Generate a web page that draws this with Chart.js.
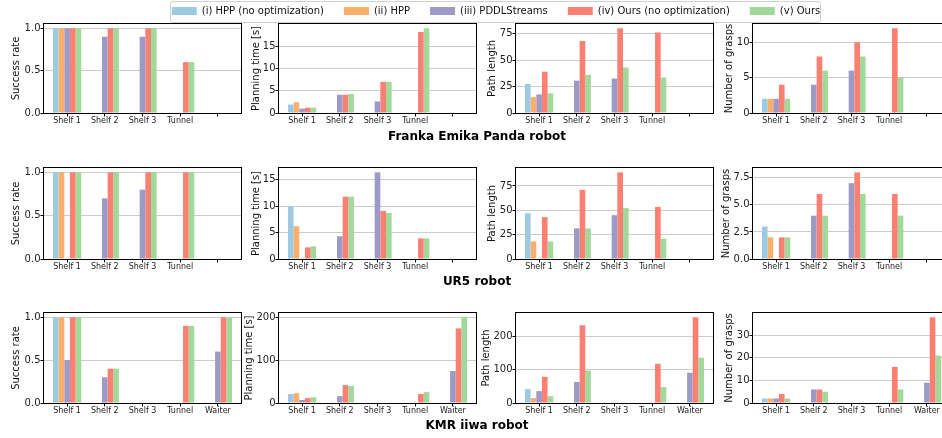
<!DOCTYPE html>
<html>
<head>
<meta charset="utf-8">
<script src="https://cdn.jsdelivr.net/npm/chart.js@4/dist/chart.umd.min.js"></script>
<style>
  html, body { margin: 0; padding: 0; background: #fff; overflow: hidden; width: 942px; height: 438px; }
  #fig { position: relative; width: 942px; height: 438px; overflow: hidden; }
  #fig canvas { position: absolute; }
  .row-title { position: absolute; width: 400px; text-align: center; font: bold 12px 'DejaVu Sans', sans-serif; line-height: 14px; color: #000; }
  #legendFrame { position: absolute; left: 170px; top: 1px; width: 649px; height: 20px; border: 1px solid #d0d0d0; border-radius: 3px; background: #fff; }
</style>
</head>
<body>
<div id="fig"><div id="legendFrame"></div></div>
<script>
// ---- methods and scenes ----
const methods = ['(i) HPP (no optimization)', '(ii) HPP', '(iii) PDDLStreams', '(iv) Ours (no optimization)', '(v) Ours'];
const methodColors = ['#9ecae1', '#fdae6b', '#9e9ac8', '#fb8072', '#a1d99b'];
const scenesShelfTunnel = ['Shelf 1', 'Shelf 2', 'Shelf 3', 'Tunnel', ''];
const scenesWithWaiter = ['Shelf 1', 'Shelf 2', 'Shelf 3', 'Tunnel', 'Waiter'];

// ---- y-axis tick labels ----
const ticksSuccess = ['0.0', '0.5', '1.0'];
const ticksTimeSmall = ['0', '5', '10', '15'];
const ticksPathSmall = ['0', '25', '50', '75'];
const ticksGraspsPanda = ['0', '5', '10'];
const ticksGraspsUr5 = ['0.0', '2.5', '5.0', '7.5'];
const ticksHundreds = ['0', '100', '200'];
const ticksGraspsKmr = ['0', '10', '20', '30'];

// ---- results: one row per method, one column per scene ----
// Franka Emika Panda
const pandaSuccess = [
  [1, 0, 0, 0, 0],
  [1, 0, 0, 0, 0],
  [1, 0.9, 0.9, 0, 0],
  [1, 1, 1, 0.6, 0],
  [1, 1, 1, 0.6, 0]
];
const pandaTime = [
  [1.9, 0, 0, 0, 0],
  [2.4, 0, 0, 0, 0],
  [1.0, 4.1, 2.6, 0, 0],
  [1.2, 4.1, 7.0, 18.2, 0],
  [1.2, 4.3, 7.0, 19.05, 0]
];
const pandaPath = [
  [27.5, 0, 0, 0, 0],
  [15, 0, 0, 0, 0],
  [17.5, 30.5, 32.5, 0, 0],
  [39, 68, 80, 76, 0],
  [18.5, 36, 43, 33.5, 0]
];
const pandaGrasps = [
  [2, 0, 0, 0, 0],
  [2, 0, 0, 0, 0],
  [2, 4, 6, 0, 0],
  [4, 8, 10, 12, 0],
  [2, 6, 8, 5, 0]
];
// UR5
const ur5Success = [
  [1, 0, 0, 0, 0],
  [1, 0, 0, 0, 0],
  [0, 0.7, 0.8, 0, 0],
  [1, 1, 1, 1, 0],
  [1, 1, 1, 1, 0]
];
const ur5Time = [
  [9.9, 0, 0, 0, 0],
  [6.2, 0, 0, 0, 0],
  [0, 4.3, 16.4, 0, 0],
  [2.2, 11.8, 9.1, 3.9, 0],
  [2.4, 11.8, 8.7, 3.9, 0]
];
const ur5Path = [
  [47, 0, 0, 0, 0],
  [18, 0, 0, 0, 0],
  [0, 31.5, 45, 0, 0],
  [43, 71, 89, 53.5, 0],
  [18, 31.5, 52.5, 21, 0]
];
const ur5Grasps = [
  [3, 0, 0, 0, 0],
  [2, 0, 0, 0, 0],
  [0, 4, 7, 0, 0],
  [2, 6, 8, 6, 0],
  [2, 4, 6, 4, 0]
];
// KMR iiwa
const kmrSuccess = [
  [1, 0, 0, 0, 0],
  [1, 0, 0, 0, 0],
  [0.5, 0.3, 0, 0, 0.6],
  [1, 0.4, 0, 0.9, 1],
  [1, 0.4, 0, 0.9, 1]
];
const kmrTime = [
  [21, 0, 0, 0, 0],
  [23, 0, 0, 0, 0],
  [7, 16, 0, 0, 75],
  [11.5, 42, 0, 21, 175],
  [13.5, 40, 0, 25.5, 201]
];
const kmrPath = [
  [42, 0, 0, 0, 0],
  [14.5, 0, 0, 0, 0],
  [36, 63.5, 0, 0, 91.5],
  [79, 235, 0, 118.5, 259],
  [20.5, 98, 0, 48.5, 137]
];
const kmrGrasps = [
  [2, 0, 0, 0, 0],
  [2, 0, 0, 0, 0],
  [2, 6, 0, 0, 9],
  [4, 6, 0, 16, 38],
  [2, 5, 0, 6, 21]
];

const robotTitles = ['Franka Emika Panda robot', 'UR5 robot', 'KMR iiwa robot'];
const yTitles = ['Success rate', 'Planning time [s]', 'Path length', 'Number of grasps'];

// ---- page layout (px) ----
const colAxisX = [44, 279, 516, 753];
const yTitleX = [
  [16, 256, 492, 729],
  [16, 256, 492, 726],
  [16, 249, 486, 729]
];
const plotWidth = 197;
const rowTop = [24, 168, 313];
const rowBottom = [113, 259, 403];
const rowTitleCenterY = [136, 281, 425];

Chart.defaults.font.family = "'DejaVu Sans', sans-serif";
Chart.defaults.color = '#111';

const fig = document.getElementById('fig');

// Draws the black box round each plot area
const axesFrame = {
  id: 'axesFrame',
  afterDraw(chart) {
    const { ctx, chartArea: a } = chart;
    ctx.save();
    ctx.strokeStyle = '#000';
    ctx.lineWidth = 1;
    const l = Math.round(a.left), t = Math.round(a.top);
    const r = Math.round(a.right), b = Math.round(a.bottom);
    ctx.strokeRect(l - 0.5, t - 0.5, r - l + 1, b - t + 1);
    ctx.restore();
  }
};

function panel(row, col, scenes, series, tickLabels, yTitle) {
  const axisW = 40, padTop = 8, padRight = 6, xAxisH = 22;
  const left = colAxisX[col] - axisW;
  const top = rowTop[row] - padTop;
  const plotH = rowBottom[row] - rowTop[row];
  const cv = document.createElement('canvas');
  cv.width = axisW + plotWidth + padRight;
  cv.height = padTop + plotH + xAxisH;
  cv.style.left = left + 'px';
  cv.style.top = top + 'px';
  fig.appendChild(cv);

  const tickValues = tickLabels.map(Number);
  const dataMax = Math.max(...series.flat());

  new Chart(cv, {
    type: 'bar',
    data: {
      datasets: series.map((vals, k) => ({
        label: methods[k],
        data: vals.map((v, i) => ({ x: i, y: v })),
        backgroundColor: methodColors[k],
        borderWidth: 0,
        categoryPercentage: 0.75,
        barPercentage: 1
      }))
    },
    options: {
      responsive: false,
      animation: false,
      devicePixelRatio: 1,
      layout: { padding: { top: padTop, right: padRight, left: 0, bottom: 0 } },
      plugins: { legend: { display: false }, tooltip: { enabled: false } },
      scales: {
        x: {
          type: 'linear',
          min: -0.6125,
          max: 4.6125,
          offset: false,
          bounds: 'data',
          afterBuildTicks: s => { s.ticks = scenes.map((_, i) => ({ value: i })); },
          afterFit: s => { s.height = xAxisH; },
          ticks: {
            callback: v => scenes[v] ?? '',
            autoSkip: false, maxRotation: 0, minRotation: 0,
            font: { size: 8 }, color: '#222', padding: 0
          },
          grid: { drawOnChartArea: false, drawTicks: true, tickLength: 3.5, tickColor: '#000', tickWidth: 1, offset: false },
          border: { display: false }
        },
        y: {
          min: 0,
          max: dataMax * 1.05,
          bounds: 'data',
          afterBuildTicks: s => { s.ticks = tickValues.map(v => ({ value: v })); },
          afterFit: s => { s.width = axisW; },
          ticks: { callback: (v, i) => tickLabels[i], font: { size: 10 }, color: '#222', padding: 0 },
          grid: { color: '#cccccc', lineWidth: 1, drawTicks: true, tickLength: 3.5, tickColor: '#000', tickWidth: 1 },
          border: { display: false },
          title: {
            display: true, text: yTitle, font: { size: 10 }, color: '#111',
            padding: { top: yTitleX[row][col] - left - 6, bottom: 0 }
          }
        }
      }
    },
    plugins: [axesFrame]
  });
}

// Panda row
panel(0, 0, scenesShelfTunnel, pandaSuccess, ticksSuccess, yTitles[0]);
panel(0, 1, scenesShelfTunnel, pandaTime, ticksTimeSmall, yTitles[1]);
panel(0, 2, scenesShelfTunnel, pandaPath, ticksPathSmall, yTitles[2]);
panel(0, 3, scenesShelfTunnel, pandaGrasps, ticksGraspsPanda, yTitles[3]);
// UR5 row
panel(1, 0, scenesShelfTunnel, ur5Success, ticksSuccess, yTitles[0]);
panel(1, 1, scenesShelfTunnel, ur5Time, ticksTimeSmall, yTitles[1]);
panel(1, 2, scenesShelfTunnel, ur5Path, ticksPathSmall, yTitles[2]);
panel(1, 3, scenesShelfTunnel, ur5Grasps, ticksGraspsUr5, yTitles[3]);
// KMR iiwa row
panel(2, 0, scenesWithWaiter, kmrSuccess, ticksSuccess, yTitles[0]);
panel(2, 1, scenesWithWaiter, kmrTime, ticksHundreds, yTitles[1]);
panel(2, 2, scenesWithWaiter, kmrPath, ticksHundreds, yTitles[2]);
panel(2, 3, scenesWithWaiter, kmrGrasps, ticksGraspsKmr, yTitles[3]);

// Row captions
robotTitles.forEach((t, r) => {
  const d = document.createElement('div');
  d.className = 'row-title';
  d.textContent = t;
  d.style.left = (477 - 200) + 'px';
  d.style.top = (rowTitleCenterY[r] - 7) + 'px';
  fig.appendChild(d);
});

// Shared legend across the top
const lc = document.createElement('canvas');
lc.width = 800;
lc.height = 60;
lc.style.left = '96px';
lc.style.top = '-14px';
fig.appendChild(lc);
new Chart(lc, {
  type: 'bar',
  data: {
    labels: [],
    datasets: methods.map((m, k) => ({ label: m, data: [], backgroundColor: methodColors[k], borderWidth: 0 }))
  },
  options: {
    responsive: false,
    animation: false,
    devicePixelRatio: 1,
    layout: { padding: 0 },
    scales: { x: { display: false }, y: { display: false } },
    plugins: {
      tooltip: { enabled: false },
      legend: {
        display: true, position: 'top', align: 'center',
        onClick: null,
        labels: { boxWidth: 25, boxHeight: 8, padding: 20, font: { size: 10 }, color: '#111' }
      }
    }
  }
});
</script>
</body>
</html>
